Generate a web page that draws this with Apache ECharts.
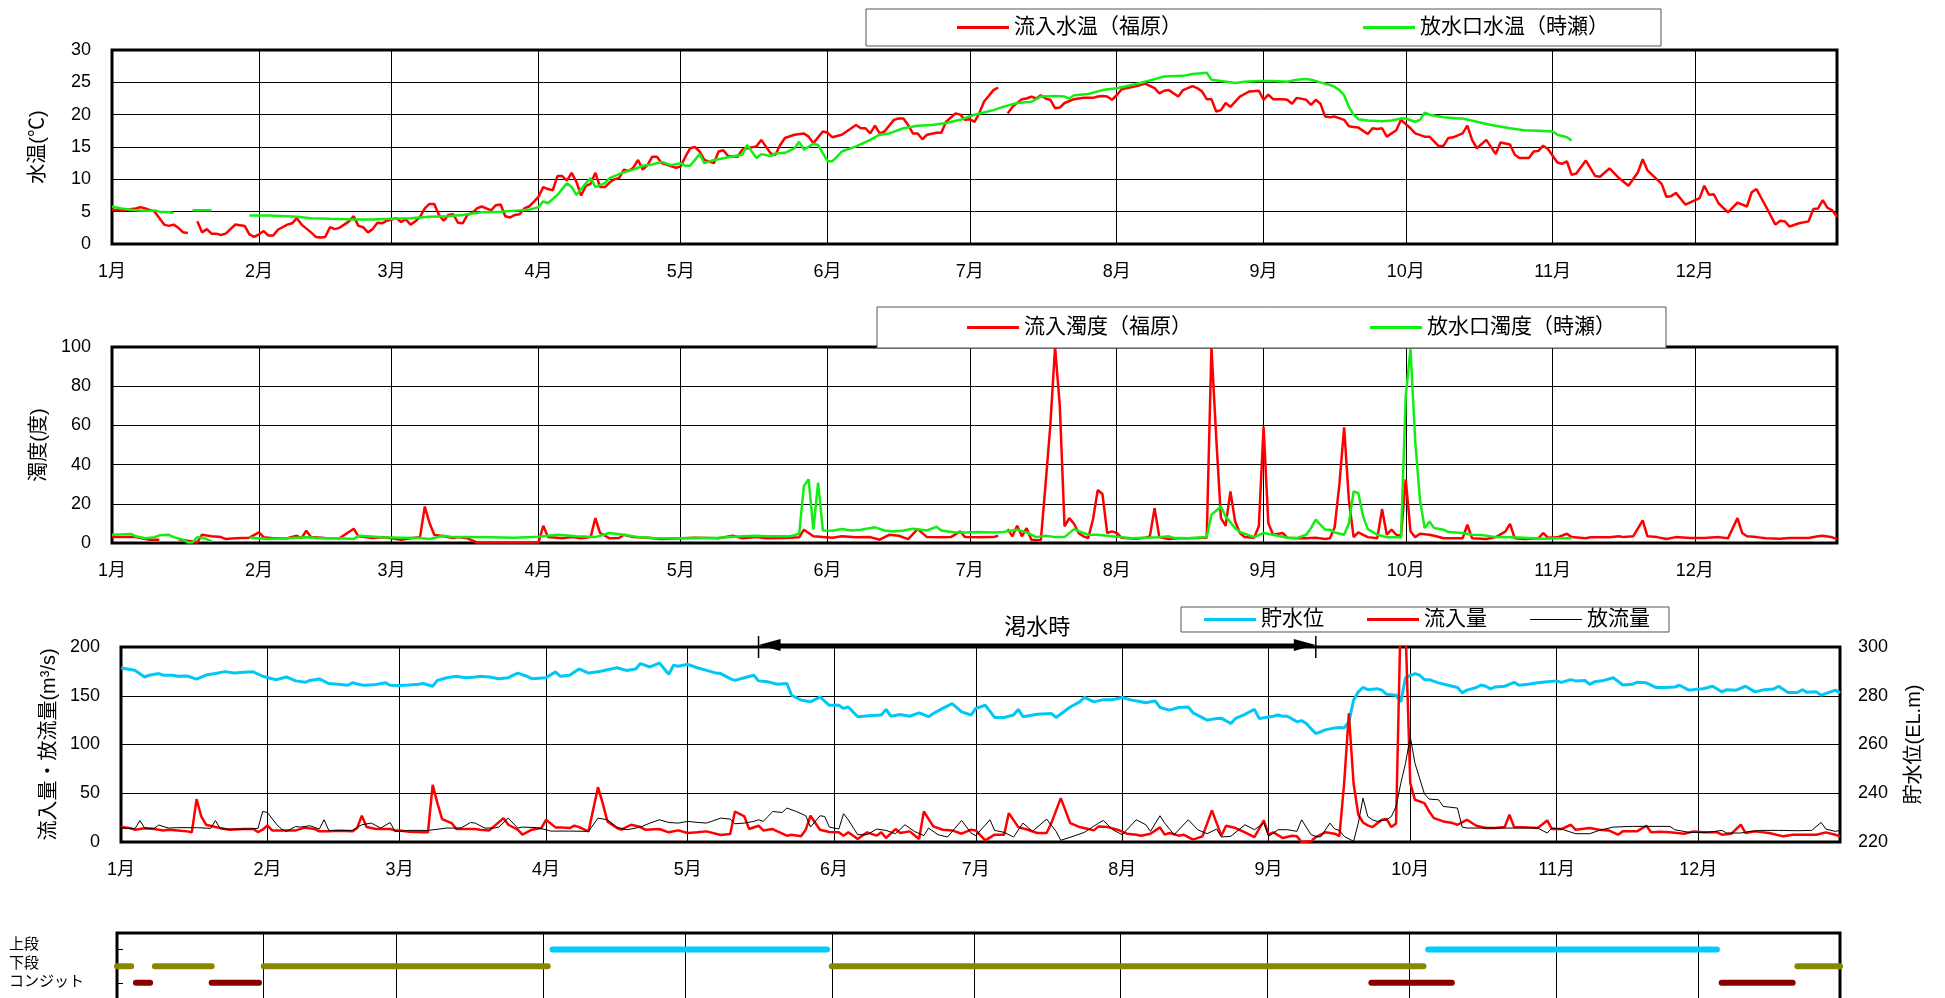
<!DOCTYPE html>
<html><head><meta charset="utf-8">
<script src="https://cdn.jsdelivr.net/npm/echarts@6/dist/echarts.min.js"></script>
<style>html,body{margin:0;padding:0;background:#fff}#c{width:1945px;height:998px}</style>
</head><body><div id="c"></div>
<script>
// ---------- axis categories ----------
const monthDays = [31,28,31,30,31,30,31,31,30,31,30,31];
const monthLabels = ['1月','2月','3月','4月','5月','6月','7月','8月','9月','10月','11月','12月'];
const tempTicks = [0,30,5];      // min,max,interval
const turbTicks = [0,100,20];
const flowTicks = [0,200,50];
const levelTicks = [220,300,20];

// ---------- data: [day index (0 = 1月1日), value] ----------
const tempInflow = [[0,5.3],[2,5.2],[5,5.5],[6,5.7],[7,5.5],[9,5.0],[11,3.0],[12,2.8],[13,3.0],[14,2.5],[15,1.8],[16,1.7],[17,'-'],[18,3.5],[19,1.8],[20,2.3],[21,1.6],[22,1.6],[23,1.4],[24,1.6],[25,2.3],[26,3.0],[28,2.8],[29,1.5],[30,1.1],[31,1.5],[32,2.0],[33,1.3],[34,1.3],[35,2.2],[37,3.0],[38,3.2],[39,4.0],[40,3.0],[42,1.8],[43,1.1],[44,1.0],[45,1.1],[46,2.6],[47,2.3],[48,2.5],[49,3.0],[50,3.5],[51,4.3],[52,2.8],[53,2.6],[54,1.8],[55,2.3],[56,3.3],[57,3.2],[58,3.6],[59,3.8],[60,4.0],[61,3.4],[62,3.8],[63,3.0],[64,3.5],[65,4.2],[66,5.5],[67,6.2],[68,6.2],[69,4.5],[70,3.6],[71,4.5],[72,4.6],[73,3.3],[74,3.2],[75,4.5],[76,4.8],[77,5.5],[78,5.8],[79,5.5],[80,5.2],[81,6.0],[82,6.1],[83,4.3],[84,4.1],[85,4.5],[86,4.6],[87,5.5],[88,5.8],[89,6.5],[90,7.3],[91,8.8],[92,8.5],[93,8.3],[94,10.5],[95,10.5],[96,9.8],[97,11.0],[98,9.6],[99,7.5],[100,9.0],[101,9.3],[102,11.0],[103,8.8],[104,8.8],[105,9.5],[106,10.0],[107,10.2],[108,11.5],[109,11.3],[110,11.8],[111,13.0],[112,11.5],[113,12.2],[114,13.5],[115,13.5],[116,12.5],[117,12.3],[118,12.0],[119,11.8],[120,12.0],[121,13.5],[122,14.8],[123,15.0],[124,14.3],[125,13.0],[127,12.5],[128,14.3],[129,14.5],[130,13.6],[132,13.5],[133,14.6],[134,14.8],[136,15.1],[137,16.1],[139,14.0],[140,13.8],[141,15.3],[142,16.4],[144,16.9],[146,17.1],[147,16.6],[148,15.6],[150,17.4],[151,17.2],[152,16.5],[154,16.9],[155,17.4],[157,18.4],[158,17.9],[159,17.9],[160,17.1],[161,18.3],[162,17.1],[163,17.4],[165,19.2],[166,19.4],[167,19.4],[168,18.4],[169,17.1],[170,17.1],[171,16.2],[172,16.9],[174,17.2],[175,17.2],[176,18.9],[178,20.2],[179,20.0],[180,19.2],[181,19.3],[182,18.9],[183,20.2],[184,22.0],[186,23.8],[187,24.2],[188,'-'],[189,20.2],[190,21.2],[192,22.4],[193,22.5],[194,22.8],[195,22.5],[196,23.0],[197,22.5],[198,22.3],[199,21.0],[200,21.1],[201,21.8],[203,22.4],[204,22.5],[205,22.6],[207,22.6],[208,22.8],[209,22.9],[210,22.8],[211,22.3],[212,23.0],[213,23.9],[214,24.1],[216,24.4],[217,24.6],[218,24.8],[220,24.1],[221,23.3],[222,23.7],[223,23.8],[225,22.8],[226,23.8],[228,24.4],[229,24.1],[230,23.6],[231,22.4],[232,22.4],[233,20.5],[234,20.7],[235,21.8],[236,21.2],[238,22.8],[239,23.2],[240,23.6],[242,23.7],[243,22.3],[244,23.1],[245,22.4],[247,22.4],[248,22.3],[249,21.7],[250,22.6],[252,22.3],[253,21.5],[254,22.3],[255,21.7],[256,19.7],[257,19.6],[258,19.7],[260,19.2],[261,18.2],[262,18.1],[263,18.0],[265,17.0],[266,17.9],[267,17.8],[268,17.9],[269,16.6],[271,17.6],[272,19.2],[274,17.9],[275,17.1],[277,16.6],[278,16.6],[280,15.1],[281,15.2],[282,16.4],[283,16.5],[285,17.1],[286,18.3],[287,16.1],[288,14.8],[290,16.1],[292,13.9],[293,15.7],[295,15.4],[296,13.8],[297,13.3],[299,13.3],[300,14.3],[301,14.4],[302,15.2],[303,14.7],[305,12.6],[306,12.4],[307,12.8],[308,10.7],[309,10.9],[311,12.9],[313,10.5],[314,10.4],[316,11.7],[318,10.2],[320,9.0],[322,11.1],[323,13.1],[324,11.4],[327,9.3],[328,7.3],[329,7.4],[330,7.9],[332,6.1],[335,7.1],[336,9.0],[337,7.6],[338,7.7],[339,6.3],[341,4.9],[343,6.4],[345,5.8],[346,8.0],[347,8.5],[349,5.8],[351,3.0],[352,3.6],[353,3.5],[354,2.7],[356,3.2],[358,3.5],[359,5.4],[360,5.5],[361,6.8],[362,5.6],[363,5.2],[364,4.2]];

const tempOutflow = [[0,5.8],[2,5.5],[4,5.3],[5,5.2],[8,5.1],[9,5.2],[10,5.0],[12,4.9],[13,4.8],[14,'-'],[17,5.2],[21,5.2],[22,'-'],[29,4.4],[33,4.4],[37,4.3],[39,4.2],[42,4.0],[46,3.9],[51,3.8],[55,3.8],[59,3.9],[63,4.0],[67,4.2],[71,4.3],[74,4.5],[78,4.9],[82,5.0],[86,5.2],[88,5.3],[90,5.7],[91,6.6],[92,6.3],[94,7.6],[96,9.4],[97,8.8],[98,7.6],[100,9.4],[101,10.2],[102,8.8],[104,9.4],[105,10.2],[107,10.8],[108,11.1],[110,11.5],[112,12.1],[114,12.3],[116,12.7],[118,12.2],[120,12.5],[121,12.1],[122,12.1],[124,13.9],[125,12.5],[127,13.0],[128,13.1],[130,13.4],[133,13.8],[134,15.3],[136,13.3],[137,13.9],[139,13.6],[140,14.0],[142,14.1],[144,14.8],[145,15.8],[146,14.6],[148,15.5],[149,15.3],[151,12.8],[152,12.8],[153,13.5],[154,14.3],[157,15.1],[160,16.1],[162,16.9],[164,17.1],[167,17.9],[170,18.3],[173,18.4],[176,18.7],[179,19.2],[182,20.0],[186,20.7],[188,21.2],[191,21.8],[194,22.0],[196,22.8],[199,22.9],[201,22.8],[202,22.5],[203,23.0],[206,23.2],[209,23.8],[212,24.1],[214,24.4],[217,24.9],[220,25.5],[222,25.9],[226,26.0],[228,26.3],[231,26.5],[232,25.4],[234,25.2],[237,24.9],[239,25.1],[242,25.2],[245,25.2],[248,25.1],[250,25.4],[252,25.5],[253,25.4],[255,25.0],[257,24.6],[258,24.3],[259,23.8],[260,23.0],[261,21.2],[262,20.0],[263,19.3],[265,19.1],[268,19.0],[270,19.1],[272,19.4],[273,19.4],[275,18.9],[276,19.2],[277,20.3],[278,20.0],[281,19.6],[284,19.4],[285,19.4],[288,18.9],[291,18.4],[295,17.9],[298,17.6],[301,17.5],[304,17.4],[305,16.9],[307,16.5],[308,16.0]];

const turbInflow = [[0,3.0],[5,3.0],[7,2.0],[8,1.7],[10,1.7],[11,'-'],[14,2.0],[15,1.4],[17,0.8],[18,0.3],[19,4.2],[21,3.4],[23,3.0],[24,2.0],[26,2.4],[29,2.7],[31,5.4],[32,3.0],[34,2.4],[37,2.4],[39,3.7],[40,2.5],[41,6.3],[42,3.0],[45,2.5],[48,2.4],[51,7.3],[52,3.4],[55,2.5],[57,2.9],[59,2.4],[61,1.7],[63,2.4],[65,3.0],[66,18.6],[67,10.2],[68,4.2],[70,3.4],[72,2.5],[73,3.0],[75,2.4],[77,0.3],[80,0.3],[85,0.3],[90,0.3],[91,8.8],[92,3.0],[95,2.4],[97,3.0],[99,2.4],[101,3.0],[102,12.7],[103,5.1],[105,2.4],[107,2.5],[108,4.2],[110,3.0],[113,2.7],[116,2.0],[120,2.4],[123,2.7],[128,2.4],[131,3.7],[133,2.4],[136,3.0],[138,2.4],[142,2.5],[145,2.9],[146,6.8],[148,3.4],[150,3.0],[152,2.7],[154,3.4],[157,2.9],[160,3.0],[162,1.7],[164,4.2],[166,3.7],[168,2.0],[170,7.1],[172,3.0],[175,2.9],[177,3.0],[179,5.9],[180,3.0],[183,2.9],[186,3.0],[187,3.7],[188,'-'],[189,7.1],[190,3.4],[191,8.8],[192,3.4],[193,7.6],[194,1.7],[195,1.4],[196,1.5],[197,30],[198,60],[199,100],[200,70],[201,8.5],[202,12.7],[203,9.8],[204,5.0],[205,3.4],[206,2.5],[207,12],[208,27],[209,25],[210,5.1],[211,5.9],[212,5.1],[213,2.7],[216,2.2],[218,2.7],[219,3.4],[220,17.8],[221,3.0],[223,2.0],[225,2.4],[227,2.4],[229,2.5],[231,2.7],[232,100],[233,54],[234,12.7],[235,8.8],[236,26.3],[237,11.0],[238,5.1],[239,3.0],[241,2.7],[242,8.5],[243,59.3],[244,10.2],[245,4.2],[247,5.1],[248,2.7],[250,2.4],[252,2.4],[254,2.7],[256,2.0],[257,2.4],[258,8],[259,30],[260,59],[261,22],[262,3.0],[263,5.4],[264,4.2],[265,3.0],[267,2.4],[268,17.3],[269,4.2],[270,6.8],[271,4.2],[272,3.7],[273,32.5],[274,5.9],[275,3.0],[276,4.7],[278,4.2],[279,3.7],[281,2.4],[283,2.4],[285,2.4],[286,9.3],[287,2.4],[290,2.0],[292,3.0],[294,5.8],[295,9.8],[296,2.4],[298,2.0],[301,2.4],[302,5.1],[303,2.7],[305,2.9],[307,4.7],[308,3.0],[311,2.4],[312,2.9],[316,2.9],[318,3.4],[319,3.0],[321,3.4],[323,11.5],[324,3.4],[326,3.0],[328,2.0],[330,3.0],[333,2.5],[336,2.5],[339,3.0],[341,2.4],[343,12.7],[344,5.1],[345,3.4],[347,3.0],[349,2.4],[352,2.2],[354,2.5],[358,2.5],[360,3.4],[361,3.7],[363,2.9],[364,2.0]];

const turbOutflow = [[0,4.2],[2,4.4],[4,4.6],[5,3.4],[7,2.4],[9,3.0],[10,3.9],[12,4.2],[13,3.0],[15,1.7],[16,0.3],[17,0.3],[18,3.0],[20,2.0],[21,0.8],[22,'-'],[29,2.7],[31,2.4],[33,2.0],[38,2.5],[41,2.9],[44,2.4],[48,2.4],[51,2.0],[52,3.7],[54,3.4],[57,2.9],[61,2.7],[65,2.5],[67,2.0],[70,3.7],[72,3.0],[75,3.0],[80,2.9],[85,2.7],[90,3.2],[94,4.2],[98,3.4],[102,3.0],[105,5.1],[108,4.2],[111,3.0],[114,2.5],[118,2.4],[122,2.5],[128,2.7],[133,3.4],[136,3.7],[138,3.4],[141,3.4],[143,3.4],[145,4.7],[146,29],[147,32.5],[148,6.8],[149,30.8],[150,6.4],[152,6.3],[154,7.1],[156,6.4],[158,6.8],[161,8.0],[163,6.4],[165,5.9],[167,6.4],[169,7.3],[172,6.4],[174,8.3],[175,6.4],[178,5.4],[180,5.4],[183,5.6],[186,5.4],[188,5.6],[190,6.4],[191,6.8],[193,5.4],[195,3.0],[197,3.7],[199,3.0],[201,3.0],[203,7.1],[205,5.1],[206,4.2],[208,4.2],[210,3.7],[213,3.0],[215,2.4],[218,2.7],[221,2.9],[223,3.4],[224,2.7],[227,2.4],[231,3.0],[232,14.4],[234,18.6],[235,13.6],[237,7.6],[238,5.6],[241,3.0],[243,5.1],[245,4.2],[248,2.7],[250,2.5],[252,4.2],[253,7.6],[254,11.9],[255,9.3],[256,6.8],[257,6.8],[258,5.4],[260,4.2],[261,10],[262,26.3],[263,25.4],[264,13.6],[265,7.1],[267,4.2],[269,2.9],[271,2.9],[272,2.9],[273,75],[274,99],[275,52],[276,22],[277,7.6],[278,11],[279,7.6],[281,6.8],[282,5.6],[285,5.1],[287,4.2],[289,4.1],[292,3.0],[295,2.9],[298,2.7],[302,2.2],[305,2.4],[308,2.4]];

const waterLevel = [[0,291.4],[2,290.8],[3,290.4],[5,287.7],[6,288.4],[8,289.1],[9,288.4],[11,288.4],[12,288.0],[14,288.1],[16,286.8],[18,288.5],[20,289.1],[22,289.9],[24,289.3],[26,289.6],[28,289.8],[30,288.0],[32,287.0],[33,286.6],[35,287.7],[37,286.1],[39,285.5],[40,286.3],[42,286.9],[44,285.0],[46,284.7],[48,284.3],[49,285.3],[51,284.4],[52,284.3],[54,284.6],[56,285.3],[57,284.3],[59,284.2],[61,284.4],[63,284.7],[64,285.0],[66,283.9],[67,286.3],[69,287.4],[71,288.0],[73,287.4],[75,287.7],[76,288.0],[78,287.7],[80,287.0],[82,287.4],[84,289.3],[86,288.0],[87,287.0],[90,287.4],[92,289.8],[93,288.0],[95,288.4],[97,291.0],[99,289.3],[101,289.8],[103,290.7],[105,291.5],[107,290.4],[109,291.0],[110,293.2],[112,291.8],[114,293.4],[116,288.8],[117,292.5],[118,292.1],[120,292.9],[122,291.5],[124,290.4],[126,289.3],[127,289.1],[129,287.0],[130,286.3],[132,287.4],[134,288.4],[135,286.1],[137,285.7],[139,284.7],[141,285.0],[142,280.2],[144,278.2],[146,277.5],[148,279.5],[150,276.1],[152,276.1],[153,274.8],[154,275.4],[156,271.4],[159,271.9],[161,272.1],[162,274.4],[163,271.6],[165,272.3],[167,271.6],[169,273.0],[171,271.4],[172,272.7],[174,274.8],[176,276.8],[178,273.4],[180,272.1],[181,274.8],[183,276.1],[185,271.1],[187,271.1],[189,272.1],[190,274.4],[191,271.4],[194,272.4],[197,272.7],[198,271.1],[201,275.4],[203,277.5],[204,279.3],[206,277.5],[208,278.4],[210,278.4],[212,279.3],[214,278.2],[216,277.5],[217,277.1],[219,277.9],[220,275.2],[222,274.1],[224,275.2],[226,275.4],[227,273.0],[230,270.0],[232,270.7],[233,270.8],[235,268.6],[236,270.7],[238,272.4],[240,274.4],[241,270.7],[244,271.6],[245,272.1],[246,271.6],[247,271.6],[249,269.3],[250,269.8],[251,268.6],[252,266.5],[253,264.5],[254,265.2],[255,266.0],[256,266.4],[257,266.8],[258,267.0],[259,266.8],[260,269.3],[261,278.2],[262,281.6],[263,283.4],[264,282.5],[266,282.9],[267,282.3],[268,280.6],[270,280.2],[271,277.5],[272,287.4],[274,289.1],[275,288.4],[276,286.6],[277,286.6],[279,285.3],[281,284.3],[283,283.4],[284,281.2],[285,282.3],[287,283.4],[288,284.4],[289,283.9],[290,282.8],[291,283.6],[293,283.9],[295,285.5],[296,284.3],[298,284.7],[300,285.3],[302,285.7],[304,286.1],[305,285.5],[307,286.6],[308,286.1],[310,286.3],[311,284.7],[312,285.7],[314,286.3],[316,287.4],[318,284.4],[320,284.7],[321,285.5],[323,285.3],[325,283.4],[327,283.4],[329,283.6],[330,284.3],[332,282.3],[334,282.8],[335,282.9],[337,283.9],[339,281.6],[340,282.5],[342,282.3],[344,283.9],[346,281.6],[348,282.5],[350,282.8],[351,283.9],[353,281.3],[355,281.3],[356,282.5],[357,281.4],[359,281.6],[360,280.2],[362,281.6],[363,282.3],[364,281.2]];

const inflow = [[0,15.3],[2,14.0],[3,12.6],[5,14.0],[7,13.3],[9,11.9],[10,12.6],[12,11.9],[14,10.9],[15,9.9],[16,44],[17,26.2],[18,17.7],[20,15.3],[22,13.3],[23,12.6],[26,13.3],[28,13.3],[29,10.2],[30,12.6],[31,17.0],[32,11.9],[35,11.9],[37,11.9],[39,14.7],[41,13.3],[42,10.9],[44,10.9],[46,11.6],[49,10.9],[50,14.3],[51,26.9],[52,15.3],[54,13.3],[57,13.3],[58,11.9],[59,11.9],[61,10.6],[64,9.9],[65,9.9],[66,58.6],[67,39.9],[68,23.5],[70,19.4],[71,13.3],[73,13.3],[75,13.3],[76,12.6],[78,11.9],[81,24.5],[82,17.7],[84,12.6],[85,7.5],[87,12.6],[89,14.3],[90,22.8],[92,15.0],[93,15.0],[95,14.3],[96,16.7],[97,15.3],[99,10.9],[101,56.2],[102,39.9],[103,21.1],[105,14.3],[106,12.6],[108,17.7],[110,15.3],[111,12.6],[114,13.3],[116,9.9],[118,11.9],[120,9.2],[122,9.9],[124,10.9],[127,7.2],[129,8.2],[130,31.3],[132,26.2],[133,13.3],[135,16.7],[136,11.9],[138,13.3],[139,10.9],[141,6.5],[142,7.5],[144,5.8],[145,12.6],[146,26.9],[148,12.6],[150,10.2],[152,9.9],[153,6.5],[154,9.9],[156,3.1],[158,9.9],[160,6.5],[161,9.9],[162,4.1],[164,13.3],[165,9.2],[167,10.9],[169,3.1],[170,31.3],[172,16.0],[174,12.6],[176,11.9],[178,8.5],[180,12.6],[181,11.9],[183,1.7],[185,7.5],[187,7.5],[188,29.6],[190,15.3],[192,12.6],[194,9.2],[196,9.2],[197,19.4],[199,45],[201,19.4],[203,15.3],[206,11.9],[207,16.0],[209,15.3],[211,12.6],[213,8.5],[215,7.5],[216,6.5],[218,8.5],[220,15.0],[221,7.5],[222,9.2],[224,6.5],[225,7.5],[227,2.4],[229,5.8],[231,32.4],[233,6.5],[234,16.7],[236,14.3],[238,9.9],[240,5.1],[242,22.1],[243,7.5],[244,9.9],[246,4.1],[248,6.5],[249,5.8],[250,0],[252,0.7],[253,5.1],[255,9.9],[257,8.5],[258,6.0],[259,60],[260,132],[261,60],[262,28],[263,20],[264,17],[265,15.3],[267,22.8],[268,23.5],[269,15.3],[270,19],[271,240],[272,220],[273,60.3],[274,43.3],[276,39.9],[277,31.3],[278,24.5],[280,21.1],[282,19.4],[283,17.7],[285,22.8],[287,16.7],[289,14.3],[291,14.3],[293,15.3],[294,27.9],[295,15.3],[298,15.0],[300,14.3],[302,22.1],[303,13.3],[305,13.3],[307,17.7],[308,12.6],[311,14.3],[313,12.6],[315,11.9],[317,7.5],[318,10.9],[321,10.9],[323,16.7],[324,9.9],[326,10.6],[328,9.9],[331,8.5],[333,10.9],[335,9.9],[338,9.9],[339,7.5],[341,8.5],[343,17.7],[344,9.2],[346,10.9],[349,9.2],[352,5.8],[354,7.5],[357,7.5],[359,7.5],[361,9.9],[363,7.5],[364,5.8]];

const outflow = [[0,14.3],[3,13.9],[4,22],[5,14.3],[7,13.9],[8,17.4],[10,14.3],[12,14.7],[16,14.7],[19,14.0],[20,22],[21,13.6],[23,13.3],[27,13.3],[29,14.0],[30,31.3],[31,30.3],[33,17.7],[34,13.3],[35,10.9],[37,15.9],[38,15.3],[40,16.7],[42,13.3],[43,22.8],[44,11.9],[46,11.9],[49,11.9],[51,17.7],[53,19.4],[55,14.3],[57,20],[58,10.9],[59,10.9],[61,11.9],[65,11.9],[69,14.3],[72,14.3],[74,20],[75,19.4],[77,14.3],[79,14.3],[80,15.3],[82,24.5],[84,14.3],[85,15.3],[88,14.7],[90,12.6],[91,11.2],[95,11.2],[99,10.9],[101,24.5],[103,22.8],[105,15.3],[107,12.6],[108,13.3],[110,15.3],[112,19.4],[114,22.8],[116,20],[118,19.4],[120,21.1],[122,20.1],[124,19.4],[125,21.1],[127,24.5],[129,23.5],[130,18.7],[132,19.4],[134,21.1],[135,22.8],[136,21.1],[137,26.2],[138,31.3],[140,30.3],[141,34.8],[143,31.3],[145,26.9],[146,15.3],[148,26.9],[149,26.2],[150,15.3],[152,13.3],[153,29],[154,22.8],[156,7.5],[158,7.5],[160,13.3],[162,11.9],[164,8.5],[166,17.7],[168,10.9],[170,6.5],[171,14.3],[173,7.5],[175,5.1],[178,22.1],[180,9.2],[181,6.5],[184,22.8],[185,11.9],[187,9.9],[189,5.1],[191,19.4],[193,10.9],[196,23.5],[198,10.9],[199,1.7],[202,6.5],[204,9.9],[207,19.4],[208,22.1],[210,12.6],[212,7.5],[215,22.8],[217,17.7],[218,10.9],[220,26.9],[221,19.4],[223,7.5],[226,22.8],[228,12.6],[230,8.5],[232,13.3],[233,5.1],[235,5.8],[238,17.7],[240,12.6],[242,19.4],[243,5.8],[245,12.6],[247,12.6],[249,10.9],[250,22.8],[252,7.5],[253,5.8],[254,5.1],[256,19.4],[257,13.3],[258,11.9],[259,5.8],[261,0.7],[262,19.4],[263,45],[264,26.2],[265,22.8],[266,21.1],[268,22.8],[269,26.2],[270,36.5],[271,60.3],[272,80.7],[273,108],[274,80.7],[276,49.4],[277,44],[279,43.3],[280,36.5],[283,34.8],[284,15.3],[285,14.3],[289,14.3],[292,14.3],[297,14.3],[300,14.3],[302,9.2],[303,14.3],[305,13.3],[308,8.5],[311,8.5],[313,11.9],[316,15.3],[320,16],[325,16],[328,16],[329,12.6],[332,9.9],[336,9.9],[339,11.9],[340,9.2],[343,9.2],[345,10.9],[347,11.9],[351,11.9],[355,11.6],[358,11.9],[360,20.1],[361,13.3],[363,10.9],[364,11.9]];

// operation periods [start day, end day]
const upperPeriods = [[92,150],[277,338]];
const lowerPeriods = [[0,3],[8,20],[31,91],[151,276],[355,364]];
const conduitPeriods = [[4,7],[20,30],[265,282],[339,354]];
const opRows = {upper: 4, lower: 3, conduit: 2};
const opLabels = ['上段','下段','コンジット'];

// drought period annotation
const droughtStart = 135, droughtEnd = 253;
const droughtLabel = '渇水時';

// ---------- build ----------
const FF = "'Liberation Sans','Noto Sans CJK JP',sans-serif";
const dayCats = [];
const monthStart = new Set();
monthDays.forEach((n, m) => { monthStart.add(dayCats.length); for (let d = 1; d <= n; d++) dayCats.push((m+1) + '/' + d); });
const isMonthStart = (i) => monthStart.has(i);
const catLabel = (v) => { const p = String(v).split('/'); return p[1] === '1' ? monthLabels[+p[0]-1] : ''; };

function xAx(gi, showLabel) {
  return {
    type: 'category', gridIndex: gi, data: dayCats, boundaryGap: false,
    axisLine: {show: false}, axisTick: {show: false},
    axisLabel: {show: showLabel, interval: isMonthStart, formatter: catLabel, margin: 19, color: '#000', fontSize: 18, fontFamily: FF},
    splitLine: {show: true, interval: isMonthStart, lineStyle: {color: '#000', width: 1}}
  };
}
function yAx(gi, t, name, gap, extra) {
  return Object.assign({
    type: 'value', gridIndex: gi, min: t[0], max: t[1], interval: t[2],
    name: name, nameLocation: 'middle', nameGap: gap, nameRotate: 90,
    nameTextStyle: {fontSize: 20, color: '#000', fontFamily: FF},
    axisLine: {show: false}, axisTick: {show: false},
    axisLabel: {fontSize: 18, color: '#000', margin: 21, fontFamily: FF},
    splitLine: {show: true, lineStyle: {color: '#000', width: 1}}
  }, extra || {});
}
function lineS(name, xi, yi, data, color, width) {
  return {name, type: 'line', xAxisIndex: xi, yAxisIndex: yi, data, symbol: 'none', showSymbol: false,
    connectNulls: false, lineStyle: {color, width}, itemStyle: {color}, animation: false};
}
function periodsToData(periods, row) {
  const out = [];
  periods.forEach(([s, e]) => { out.push([s, row], [e, row], [e, '-']); });
  return out;
}
function opS(name, data, color) {
  return {name, type: 'line', xAxisIndex: 3, yAxisIndex: 4, data, symbol: 'none', connectNulls: false,
    lineStyle: {color, width: 6, cap: 'round'}, animation: false};
}
// thin legend icon: zero-area first subpath stretches the box, second is a thin strip
const thinIcon = 'path://M0,0L0,3L0,0Z M0,1L52,1L52,2L0,2Z';
const legendBase = {orient: 'horizontal', icon: 'rect', itemWidth: 52, itemHeight: 3, backgroundColor: '#fff',
  borderColor: '#555', borderWidth: 1, selectedMode: false,
  textStyle: {fontSize: 21, color: '#000', fontFamily: FF}};

const gridBase = {show: true, borderColor: '#000', borderWidth: 3, backgroundColor: 'transparent', containLabel: false, outerBoundsMode: 'none'};

const option = {
  animation: false,
  backgroundColor: '#fff',
  grid: [
    Object.assign({left: 112, top: 50, width: 1725, height: 194}, gridBase),
    Object.assign({left: 112, top: 347, width: 1725, height: 196}, gridBase),
    Object.assign({left: 121, top: 647, width: 1719, height: 195}, gridBase),
    Object.assign({left: 117, top: 933, width: 1723, height: 83}, gridBase)
  ],
  xAxis: [xAx(0, true), xAx(1, true), xAx(2, true), xAx(3, false)],
  yAxis: [
    yAx(0, tempTicks, '水温(℃)', 64),
    yAx(1, turbTicks, '濁度(度)', 63),
    yAx(2, flowTicks, '流入量・放流量(m³/s)', 61),
    yAx(2, levelTicks, '貯水位(EL.m)', 64, {position: 'right', splitLine: {show: false}, axisLabel: {fontSize: 18, color: '#000', margin: 18, fontFamily: FF}}),
    {type: 'value', gridIndex: 3, min: 0, max: 5, interval: 2, axisLine: {show: false},
     axisTick: {show: true, inside: true, length: 6, lineStyle: {color: '#000'}},
     axisLabel: {show: false}, splitLine: {show: false}}
  ],
  legend: [
    Object.assign({}, legendBase, {data: ['流入水温（福原）', '放水口水温（時瀬）'], left: 866, top: 9, itemGap: 181, padding: [8, 52, 8, 91]}),
    Object.assign({}, legendBase, {data: ['流入濁度（福原）', '放水口濁度（時瀬）'], left: 877, top: 307, itemGap: 178, padding: [10, 50, 10, 90]}),
    Object.assign({}, legendBase, {data: ['貯水位', '流入量', {name: '放流量', icon: thinIcon}], left: 1181, top: 607, itemGap: 43, padding: [2, 19, 2, 23]})
  ],
  series: [
    lineS('流入水温（福原）', 0, 0, tempInflow, '#ff0000', 2.5),
    lineS('放水口水温（時瀬）', 0, 0, tempOutflow, '#11ee11', 2.5),
    lineS('流入濁度（福原）', 1, 1, turbInflow, '#ff0000', 2.5),
    lineS('放水口濁度（時瀬）', 1, 1, turbOutflow, '#11ee11', 2.5),
    lineS('貯水位', 2, 3, waterLevel, '#00c8f5', 3),
    lineS('流入量', 2, 2, inflow, '#ff0000', 2.5),
    lineS('放流量', 2, 2, outflow, '#000000', 1),
    opS('上段運用', periodsToData(upperPeriods, opRows.upper), '#00ccff'),
    opS('下段運用', periodsToData(lowerPeriods, opRows.lower), '#888800'),
    opS('コンジット運用', periodsToData(conduitPeriods, opRows.conduit), '#880000')
  ]
};

const chart = echarts.init(document.getElementById('c'), null, {renderer: 'canvas'});
chart.setOption(option);

// annotations computed from axes
const xa = chart.convertToPixel({xAxisIndex: 2}, droughtStart);
const xb = chart.convertToPixel({xAxisIndex: 2}, droughtEnd);
const ay = chart.convertToPixel({yAxisIndex: 2}, flowTicks[1]) - 2;
const opTop = chart.convertToPixel({yAxisIndex: 4}, opRows.upper);
const opMid = chart.convertToPixel({yAxisIndex: 4}, opRows.lower);
const opBot = chart.convertToPixel({yAxisIndex: 4}, opRows.conduit);
chart.setOption({
  graphic: [
    {type: 'line', shape: {x1: xa + 10, y1: ay, x2: xb - 10, y2: ay}, style: {stroke: '#000', lineWidth: 3}, z: 100},
    {type: 'polygon', shape: {points: [[xa, ay], [xa + 22, ay - 6], [xa + 22, ay + 6]]}, style: {fill: '#000'}, z: 100},
    {type: 'polygon', shape: {points: [[xb, ay], [xb - 22, ay - 6], [xb - 22, ay + 6]]}, style: {fill: '#000'}, z: 100},
    {type: 'line', shape: {x1: xa, y1: ay - 9, x2: xa, y2: ay + 13}, style: {stroke: '#000', lineWidth: 1.5}, z: 100},
    {type: 'line', shape: {x1: xb, y1: ay - 9, x2: xb, y2: ay + 13}, style: {stroke: '#000', lineWidth: 1.5}, z: 100},
    {type: 'text', x: (xa + xb) / 2, y: ay - 17, style: {text: droughtLabel, fontSize: 22, fill: '#000', align: 'center', verticalAlign: 'middle', fontFamily: FF}, z: 100},
    {type: 'text', x: 9, y: opTop - 5, style: {text: opLabels[0], fontSize: 15, fill: '#000', align: 'left', verticalAlign: 'middle', fontFamily: FF}, z: 100},
    {type: 'text', x: 9, y: opMid - 2, style: {text: opLabels[1], fontSize: 15, fill: '#000', align: 'left', verticalAlign: 'middle', fontFamily: FF}, z: 100},
    {type: 'text', x: 9, y: opBot - 1, style: {text: opLabels[2], fontSize: 15, fill: '#000', align: 'left', verticalAlign: 'middle', fontFamily: FF}, z: 100}
  ]
});
</script>
</body></html>
